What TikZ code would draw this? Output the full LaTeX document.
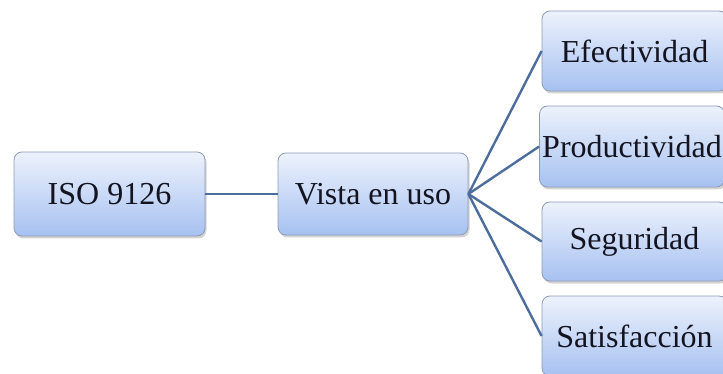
\documentclass[tikz,border=0pt]{standalone}
\usepackage{fontspec}
\setmainfont{Liberation Serif}
\usetikzlibrary{shadows}
\definecolor{linec}{HTML}{4D6E9C}
\definecolor{topc}{HTML}{EDF2FC}
\definecolor{botc}{HTML}{A6C1F1}
\definecolor{edgec}{HTML}{8C9CB6}
\definecolor{txtc}{HTML}{141420}
\tikzset{
  box/.style={draw=edgec, line width=0.8pt, rounded corners=8pt,
    top color=topc, bottom color=botc, inner sep=0pt,
    text=txtc, font=\fontsize{32}{36}\selectfont,
    drop shadow={shadow xshift=1.5pt, shadow yshift=-2.5pt, opacity=0.35, fill=gray}},
  conn/.style={draw=linec, line width=2.4pt}
}
\begin{document}
\begin{tikzpicture}[x=1pt,y=-1pt]
\useasboundingbox (0,0) rectangle (723,374);
\clip (0,0) rectangle (723,374);
\node[box, minimum width=191pt, minimum height=84pt] (iso) at (109.5,194) {ISO 9126};
\node[box, minimum width=190pt, minimum height=82pt] (vista) at (373,194) {Vista en uso};
\node[box, minimum width=185pt, minimum height=80pt] (e1) at (634.5,51) {Efectividad};
\node[box, minimum width=185pt, minimum height=81pt] (e2) at (632,146.5) {Productividad};
\node[box, minimum width=185pt, minimum height=79pt] (e3) at (634.5,241.5) {Seguridad};
\node[box, minimum width=185pt, minimum height=80pt] (e4) at (634.5,336) {Satisfacción};
\draw[conn] (iso.east) -- (vista.west);
\draw[conn] (vista.east) -- (e1.west);
\draw[conn] (vista.east) -- (e2.west);
\draw[conn] (vista.east) -- (e3.west);
\draw[conn] (vista.east) -- (e4.west);
\end{tikzpicture}
\end{document}
